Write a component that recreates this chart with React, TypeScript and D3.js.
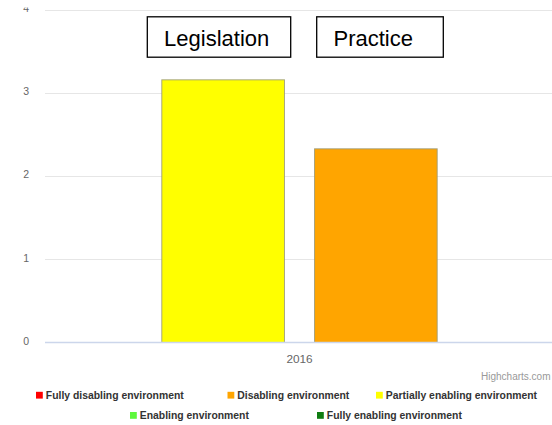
import React from "react";
import * as d3 from "d3";

// Scores for 2016, one bar per dimension
const categories = ["2016"];
const seriesNames = ["Legislation", "Practice"];
const seriesValues = [3.16, 2.33];
const seriesColors = ["#ffff00", "#ffa500"];

const yTicks = [0, 1, 2, 3, 4];

const legendNames = [
  "Fully disabling environment",
  "Disabling environment",
  "Partially enabling environment",
  "Enabling environment",
  "Fully enabling environment",
];
const legendColors = ["#ff0000", "#ffa500", "#ffff00", "#5ef83c", "#0f7d12"];

// Legend placement (row, x of swatch)
const legendLayout = [
  { row: 0, x: 36 },
  { row: 0, x: 227.5 },
  { row: 0, x: 376 },
  { row: 1, x: 130 },
  { row: 1, x: 317 },
];

// Boxed headings above the bars
const headingLayout = [
  { x: 147.3, w: 143.4 },
  { x: 316.7, w: 126.6 },
];

const W = 552;
const H = 425;
const plotLeft = 45;
const plotRight = 554;
const plotTop = 10;
const plotBottom = 342.5;

export default function App() {
  const y = d3.scaleLinear().domain([0, 4]).range([plotBottom, plotTop]);
  const x = d3.scaleBand<string>().domain(categories).range([plotLeft, plotRight]);
  const groupPad = 116.8;
  const inner = d3
    .scaleBand<string>()
    .domain(seriesNames)
    .range([groupPad, x.bandwidth() - groupPad])
    .paddingInner(0.1967)
    .paddingOuter(0);

  const font = "'Liberation Sans', Arial, Helvetica, sans-serif";

  return (
    <div style={{ position: "fixed", left: 0, top: 0, width: W, height: H, background: "#fff" }}>
      <svg width={W} height={H} style={{ display: "block", fontFamily: font }}>
        <defs>
          <clipPath id="ylab-clip">
            <rect x={0} y={7.5} width={plotLeft} height={H} />
          </clipPath>
        </defs>
        <rect x={0} y={0} width={W} height={H} fill="#fff" />

        {/* grid lines */}
        {yTicks
          .filter((t) => t !== 0)
          .map((t) => (
            <line
              key={"g" + t}
              x1={plotLeft}
              x2={W}
              y1={Math.round(y(t)) + 0.5}
              y2={Math.round(y(t)) + 0.5}
              stroke="#e6e6e6"
              strokeWidth={1}
            />
          ))}

        {/* y axis labels */}
        <g clipPath="url(#ylab-clip)">
          {yTicks.map((t) => (
            <text
              key={"yl" + t}
              x={29}
              y={y(t) - 1.5}
              dy="0.35em"
              textAnchor="end"
              fontSize={10.5}
              fill="#666666"
            >
              {t}
            </text>
          ))}
        </g>

        {/* bars */}
        {categories.map((c) =>
          seriesNames.map((s, i) => {
            const bx = (x(c) ?? 0) + (inner(s) ?? 0);
            const top = y(seriesValues[i]);
            return (
              <rect
                key={c + s}
                x={bx}
                y={top}
                width={inner.bandwidth()}
                height={plotBottom - top}
                fill={seriesColors[i]}
                stroke="#9a9a7a"
                strokeOpacity={0.85}
                strokeWidth={1}
              />
            );
          })
        )}

        {/* x axis line */}
        <line x1={plotLeft} x2={W} y1={plotBottom} y2={plotBottom} stroke="#ccd6eb" strokeWidth={1.5} />

        {/* x axis labels */}
        {categories.map((c) => (
          <text
            key={"xl" + c}
            x={(x(c) ?? 0) + x.bandwidth() / 2}
            y={362.5}
            textAnchor="middle"
            fontSize={11.8}
            fill="#666666"
          >
            {c}
          </text>
        ))}

        {/* headings */}
        {seriesNames.map((s, i) => (
          <g key={"h" + s}>
            <rect
              x={headingLayout[i].x}
              y={16.8}
              width={headingLayout[i].w}
              height={40.4}
              fill="#fff"
              stroke="#000"
              strokeWidth={1.3}
            />
            <text x={headingLayout[i].x + 16.8} y={45.6} fontSize={22} fill="#000">
              {s}
            </text>
          </g>
        ))}

        {/* credits */}
        <text x={481} y={376.7} dy="0.35em" fontSize={10} fill="#999999">
          Highcharts.com
        </text>

        {/* legend */}
        {legendNames.map((n, i) => {
          const cy = legendLayout[i].row === 0 ? 395.2 : 415.4;
          const lx = legendLayout[i].x;
          return (
            <g key={"lg" + n}>
              <rect x={lx} y={cy - 3.4} width={6.8} height={6.8} fill={legendColors[i]} />
              <text x={lx + 9.8} y={cy} dy="0.35em" fontSize={10.4} fontWeight="bold" fill="#333333">
                {n}
              </text>
            </g>
          );
        })}
      </svg>
    </div>
  );
}
